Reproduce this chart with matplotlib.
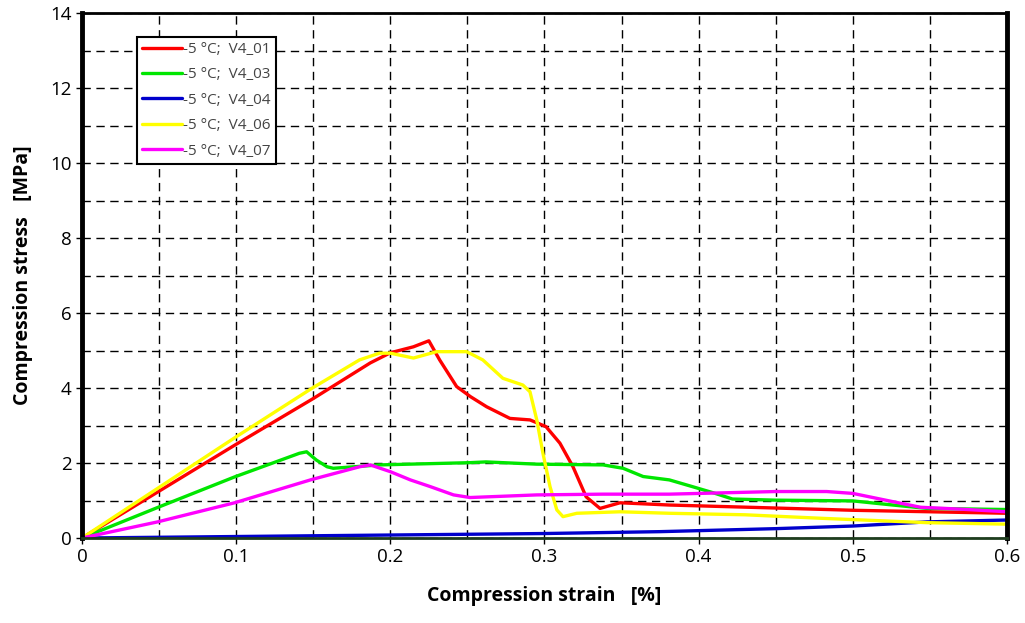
import matplotlib
matplotlib.use("Agg")
import matplotlib.pyplot as plt
from matplotlib.ticker import MultipleLocator, FuncFormatter

plt.rcParams['font.family'] = ['Open Sans', 'DejaVu Sans']

labels = ["-5 °C;  V4_01", "-5 °C;  V4_03", "-5 °C;  V4_04", "-5 °C;  V4_06", "-5 °C;  V4_07"]
colors = ["#ff0000", "#00e600", "#0000cc", "#ffff00", "#ff00ff"]

# V4_01
x1 = [0, 0.05, 0.1, 0.15, 0.187, 0.2, 0.215, 0.225, 0.232, 0.243, 0.252, 0.2625, 0.2776,
      0.2906, 0.301, 0.31, 0.3185, 0.327, 0.336, 0.349, 0.381, 0.45, 0.5, 0.55, 0.6]
y1 = [0, 1.25, 2.5, 3.72, 4.67, 4.94, 5.1, 5.26, 4.75, 4.04, 3.77, 3.5, 3.19,
      3.15, 2.97, 2.53, 1.9, 1.1, 0.79, 0.94, 0.88, 0.8, 0.74, 0.7, 0.66]
# V4_03
x3 = [0, 0.05, 0.099, 0.141, 0.1457, 0.152, 0.159, 0.163, 0.193, 0.2517, 0.262, 0.295, 0.338,
      0.351, 0.364, 0.381, 0.396, 0.41, 0.422, 0.45, 0.5, 0.526, 0.548, 0.6]
y3 = [0, 0.83, 1.63, 2.26, 2.3, 2.08, 1.9, 1.86, 1.95, 2.01, 2.03, 1.97, 1.95,
      1.86, 1.64, 1.55, 1.37, 1.2, 1.04, 1.01, 0.99, 0.88, 0.79, 0.76]
# V4_04
x4 = [0, 0.1, 0.2, 0.3, 0.375, 0.45, 0.5, 0.548, 0.6]
y4 = [0, 0.04, 0.08, 0.12, 0.17, 0.25, 0.32, 0.43, 0.48]
# V4_06
x6 = [0, 0.05, 0.1, 0.149, 0.18, 0.193, 0.2, 0.215, 0.23, 0.2495, 0.26, 0.273, 0.286, 0.2906,
      0.295, 0.299, 0.3036, 0.308, 0.312, 0.321, 0.349, 0.381, 0.43, 0.483, 0.548, 0.6]
y6 = [0, 1.35, 2.7, 3.99, 4.75, 4.93, 4.93, 4.8, 4.97, 4.97, 4.75, 4.26, 4.08, 3.9,
      3.15, 2.26, 1.37, 0.75, 0.57, 0.66, 0.7, 0.66, 0.62, 0.52, 0.41, 0.37]
# V4_07
x7 = [0, 0.049, 0.099, 0.149, 0.18, 0.187, 0.2, 0.213, 0.226, 0.241, 0.2517, 0.295, 0.338,
      0.381, 0.45, 0.483, 0.5, 0.526, 0.544, 0.57, 0.6]
y7 = [0, 0.43, 0.94, 1.56, 1.9, 1.95, 1.77, 1.55, 1.37, 1.15, 1.08, 1.15, 1.17,
      1.17, 1.24, 1.24, 1.19, 0.97, 0.82, 0.77, 0.7]

series = [(x1, y1), (x3, y3), (x4, y4), (x6, y6), (x7, y7)]

fig = plt.figure(figsize=(10.25, 6.23), dpi=100)
ax = fig.add_axes([0.08, 0.1364, 0.9024, 0.8426])

for (xs, ys), c, lab in zip(series, colors, labels):
    ax.plot(xs, ys, color=c, lw=2.4, label=lab, solid_capstyle="round")

ax.set_xlim(0, 0.6)
ax.set_ylim(0, 14)
ax.xaxis.set_major_locator(MultipleLocator(0.1))
ax.xaxis.set_minor_locator(MultipleLocator(0.05))
ax.yaxis.set_major_locator(MultipleLocator(2))
ax.yaxis.set_minor_locator(MultipleLocator(1))
ax.xaxis.set_major_formatter(FuncFormatter(lambda v, p: "0" if abs(v) < 1e-9 else f"{v:.1f}"))
ax.grid(which="both", color="black", linestyle=(0, (6, 4)), linewidth=1.0)
ax.tick_params(which="minor", length=0)
ax.tick_params(which="major", length=4, width=1, labelsize=13.5, color="black")
ax.set_axisbelow(True)

ax.spines["left"].set_linewidth(3.5)
ax.spines["right"].set_linewidth(3.5)
ax.spines["top"].set_linewidth(2)
ax.spines["bottom"].set_linewidth(2)
ax.spines["bottom"].set_color("#1e3d1e")

ax.set_xlabel("Compression strain   [%]", fontsize=14, fontweight="bold", labelpad=14)
ax.set_ylabel("Compression stress   [MPa]", fontsize=14, fontweight="bold", labelpad=12)

leg = ax.legend(loc="upper left", bbox_to_anchor=(0.059, 0.955), fancybox=False,
                framealpha=1, edgecolor="black", fontsize=11, handlelength=2.6,
                handletextpad=0.1, borderpad=0.35, labelspacing=0.68, borderaxespad=0)
leg.get_frame().set_linewidth(1.5)
for t in leg.get_texts():
    t.set_color("#444444")

fig.savefig("out.png", dpi=100)
